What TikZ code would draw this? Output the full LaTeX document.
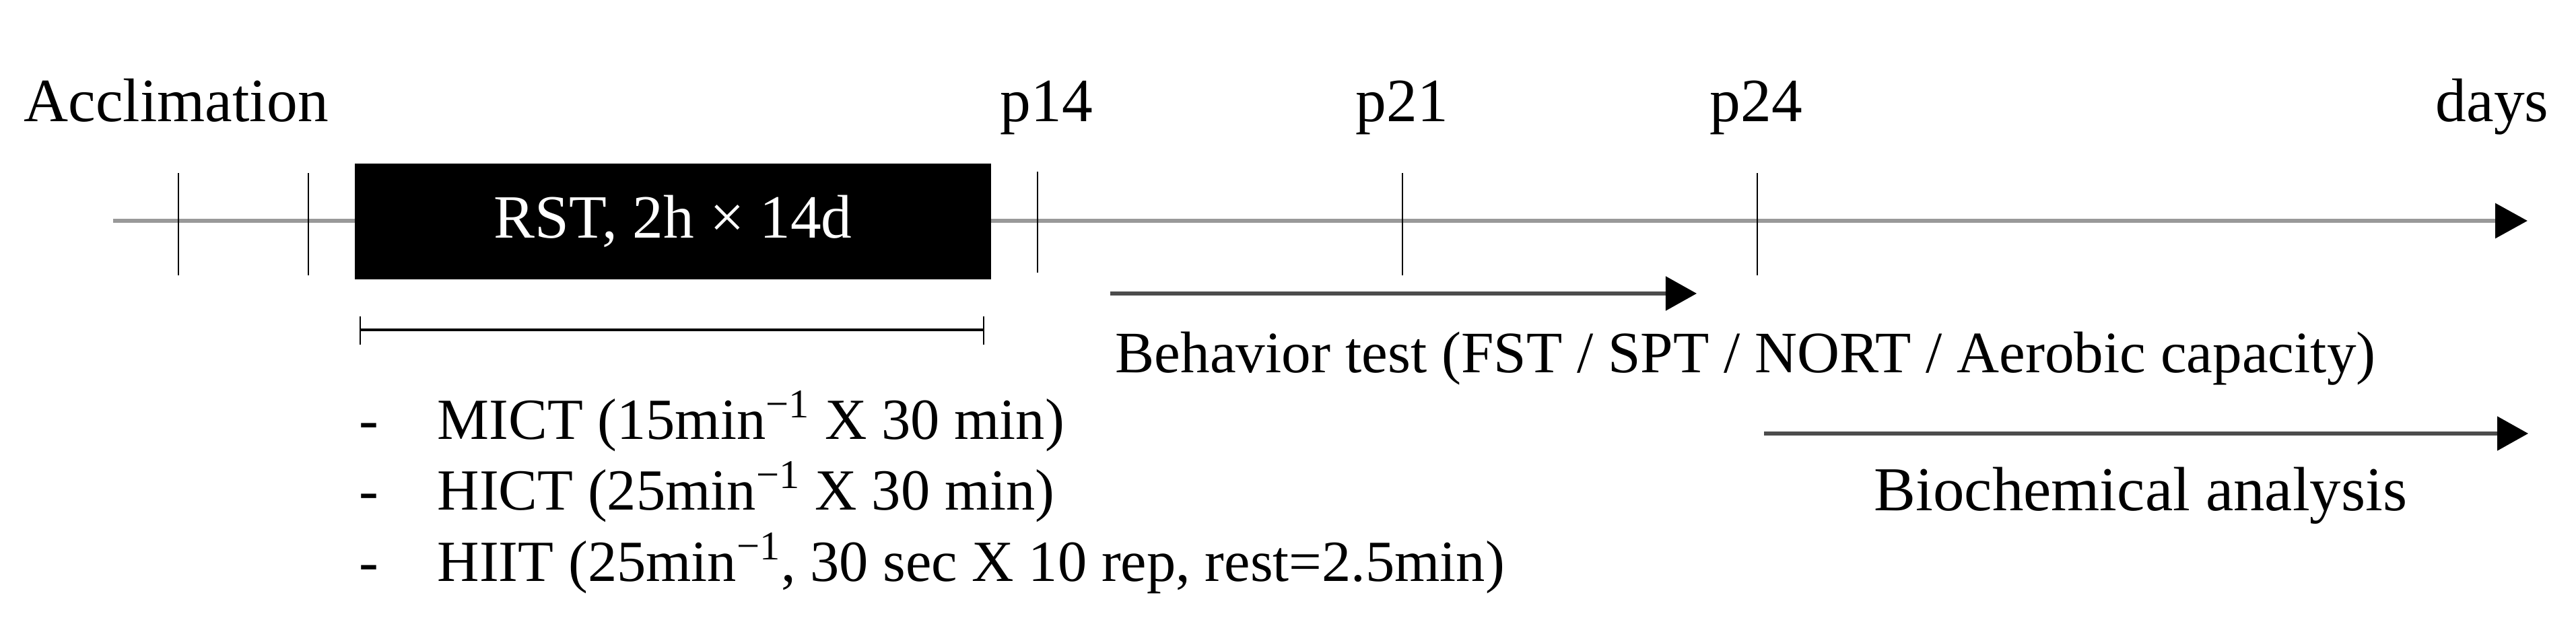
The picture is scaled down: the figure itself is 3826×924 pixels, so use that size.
\documentclass[tikz,border=0pt]{standalone}
\usepackage{fontspec}
\setmainfont{Liberation Serif}
\usetikzlibrary{arrows.meta}
\begin{document}
\begin{tikzpicture}[x=0.01cm,y=-0.01cm,
  lbl/.style={inner sep=0pt, anchor=base west, font=\fontsize{26}{30}\selectfont},
  sublbl/.style={inner sep=0pt, anchor=base west, font=\fontsize{24.6}{30}\selectfont},
  tickline/.style={line width=0.7pt, black},
  axisline/.style={line width=1.9pt, black!40},
  darrow/.style={line width=1.5pt, black!70, -{Triangle[length=0.46cm,width=0.5cm,color=black]}},
  intervalbar/.style={line width=1.1pt, black}]
\useasboundingbox (0,0) rectangle (3826,924);
% main axis
\coordinate (axs) at (168,328);
\coordinate (axe) at (3754,328);
\draw[axisline, -{Triangle[length=0.48cm,width=0.51cm,color=black]}] (axs) -- (axe);
% ticks
\coordinate (t1a) at (265,257); \coordinate (t1b) at (265,409);
\coordinate (t2a) at (458,257); \coordinate (t2b) at (458,409);
\coordinate (t3a) at (1541,255); \coordinate (t3b) at (1541,405);
\coordinate (t4a) at (2083,257); \coordinate (t4b) at (2083,409);
\coordinate (t5a) at (2610,257); \coordinate (t5b) at (2610,409);
\draw[tickline] (t1a) -- (t1b);
\draw[tickline] (t2a) -- (t2b);
\draw[tickline] (t3a) -- (t3b);
\draw[tickline] (t4a) -- (t4b);
\draw[tickline] (t5a) -- (t5b);
% RST box
\fill[black] (527,243) rectangle (1472,415);
\node[inner sep=0pt, text=white, font=\fontsize{26}{30}\selectfont] (rst) at (999.5,329) {RST, 2h × 14d};
% labels on top
\node[lbl] (accl) at (35,180) {Acclimation};
\node[lbl] (p14) at (1485,180) {p14};
\node[lbl] (p21) at (2013,180) {p21};
\node[lbl] (p24) at (2539,180) {p24};
\node[lbl, anchor=base east] (days) at (3786,180) {days};
% interval bar
\coordinate (ba) at (535,490); \coordinate (bb) at (1461,490);
\coordinate (ba1) at (535,470); \coordinate (ba2) at (535,512);
\coordinate (bb1) at (1461,470); \coordinate (bb2) at (1461,512);
\draw[intervalbar] (ba) -- (bb);
\draw[tickline] (ba1) -- (ba2);
\draw[tickline] (bb1) -- (bb2);
% behavior arrow
\coordinate (bha) at (1649,436); \coordinate (bhb) at (2520,436);
\draw[darrow] (bha) -- (bhb);
\node[sublbl, font=\fontsize{24.8}{30}\selectfont] (beh) at (1656,553) {Behavior test (FST / SPT / NORT / Aerobic capacity)};
% biochemical arrow
\coordinate (bca) at (2620,644); \coordinate (bcb) at (3755,644);
\draw[darrow] (bca) -- (bcb);
\node[lbl, font=\fontsize{26.4}{30}\selectfont] (bio) at (2783,758) {Biochemical analysis};
% exercise list
\node[sublbl, anchor=base] (d1) at (548,652) {-};
\node[sublbl, anchor=base] (d2) at (548,757) {-};
\node[sublbl, anchor=base] (d3) at (548,863) {-};
\node[sublbl] (mict) at (649,652) {MICT (15min\textsuperscript{−1} X 30 min)};
\node[sublbl] (hict) at (649,757) {HICT (25min\textsuperscript{−1} X 30 min)};
\node[sublbl] (hiit) at (649,863) {HIIT (25min\textsuperscript{−1}, 30 sec X 10 rep, rest=2.5min)};
\end{tikzpicture}
\end{document}
